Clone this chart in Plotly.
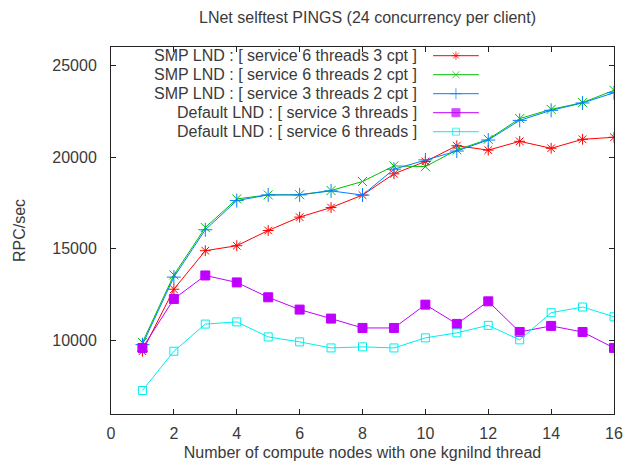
import plotly.graph_objects as go

nodes = list(range(1, 17))

smp_6thr_3cpt = [9420, 12800, 14900, 15170, 16000, 16730, 17250, 17930, 19090, 19760, 20620, 20380, 20860, 20480, 20970, 21080]
smp_6thr_2cpt = [9900, 13580, 16160, 17720, 17940, 17950, 18180, 18670, 19520, 19480, 20390, 20970, 22100, 22600, 22970, 23640]
smp_3thr_2cpt = [9780, 13460, 16040, 17630, 17940, 17940, 18160, 17930, 19340, 19850, 20330, 20930, 22000, 22550, 22950, 23510]
def_3thr = [9600, 12270, 13550, 13170, 12360, 11690, 11200, 10690, 10690, 11960, 10910, 12140, 10470, 10800, 10470, 9600]
def_6thr = [7280, 9420, 10900, 11020, 10200, 9930, 9600, 9660, 9600, 10150, 10420, 10830, 10040, 11520, 11830, 11300]

series_names = [
    "SMP LND : [ service 6 threads 3 cpt ]",
    "SMP LND : [ service 6 threads 2 cpt ]",
    "SMP LND : [ service 3 threads 2 cpt ]",
    "Default LND : [ service 3 threads ]",
    "Default LND : [ service 6 threads ]",
]
series_values = [smp_6thr_3cpt, smp_6thr_2cpt, smp_3thr_2cpt, def_3thr, def_6thr]
colors = ["#ff0000", "#00c000", "#0080ff", "#c000ff", "#00eeee"]
symbols = ["asterisk-open", "x-thin-open", "cross-thin-open", "square", "square-open"]
sizes = [9, 9, 10, 9, 8]
key_sizes = [7, 7, 8, 8, 7]

x_ticks = [0, 2, 4, 6, 8, 10, 12, 14, 16]
y_ticks = [10000, 15000, 20000, 25000]

W, H = 635, 472
L, R, T, B = 111, 18, 47, 58
pw, ph = W - L - R, H - T - B

FONT = "Liberation Sans, Arial, sans-serif"
FS = 16
TXT = "#3a3a3a"

fig = go.Figure()
for name, vals, c, s, sz in zip(series_names, series_values, colors, symbols, sizes):
    fig.add_trace(go.Scatter(
        x=nodes, y=vals, mode="lines+markers", name=name, showlegend=False,
        line=dict(color=c, width=1),
        marker=dict(symbol=s, size=sz, color=c, line=dict(color=c, width=1)),
    ))

# custom gnuplot-style key (text right-aligned, sample on the right)
text_right_px = 421
line_x0_px, line_x1_px = 435, 481
row0_px, row_step = 55.7, 19.0
for i, (name, c, s, sz) in enumerate(zip(series_names, colors, symbols, key_sizes)):
    py = row0_px + i * row_step
    yp = (H - B - py) / ph
    x0 = (line_x0_px - L) / pw
    x1 = (line_x1_px - L) / pw
    xm = (x0 + x1) / 2
    fig.add_annotation(text=name, x=(text_right_px - L) / pw, y=yp, xref="paper", yref="paper",
                       xanchor="right", yanchor="middle", showarrow=False,
                       font=dict(family=FONT, size=FS, color=TXT))
    fig.add_trace(go.Scatter(
        x=[x0, xm, x1], y=[yp, yp, yp], xaxis="x2", yaxis="y2", mode="lines+markers",
        showlegend=False, hoverinfo="skip",
        line=dict(color=c, width=1),
        marker=dict(symbol=s, size=[0, sz, 0], color=c, line=dict(color=c, width=1)),
    ))

axis_common = dict(showgrid=False, zeroline=False, showline=True, linecolor="#222222", linewidth=1,
                   mirror="ticks", ticks="inside", ticklen=5, tickcolor="#222222",
                   tickfont=dict(family=FONT, size=FS, color=TXT))

fig.update_layout(
    width=W, height=H,
    margin=dict(l=L, r=R, t=T, b=B),
    paper_bgcolor="white", plot_bgcolor="white",
    title=dict(text="LNet selftest PINGS (24 concurrency per client)", x=367.5 / W, xanchor="center",
               y=1 - 17 / H, yanchor="middle", yref="container",
               font=dict(family=FONT, size=FS, color=TXT)),
    xaxis=dict(range=[0, 16], tickvals=x_ticks, ticklabelstandoff=5, tickformat="d",
               title=dict(text="Number of compute nodes with one kgnilnd thread", standoff=5,
                          font=dict(family=FONT, size=FS, color=TXT)),
               **axis_common),
    yaxis=dict(range=[6000, 26000], tickvals=y_ticks, ticklabelstandoff=10, tickformat="d",
               title=dict(text="RPC/sec", standoff=22, font=dict(family=FONT, size=FS, color=TXT)),
               **axis_common),
    xaxis2=dict(range=[0, 1], overlaying="x", visible=False, fixedrange=True),
    yaxis2=dict(range=[0, 1], overlaying="y", visible=False, fixedrange=True),
)

fig.write_html("out.html")
